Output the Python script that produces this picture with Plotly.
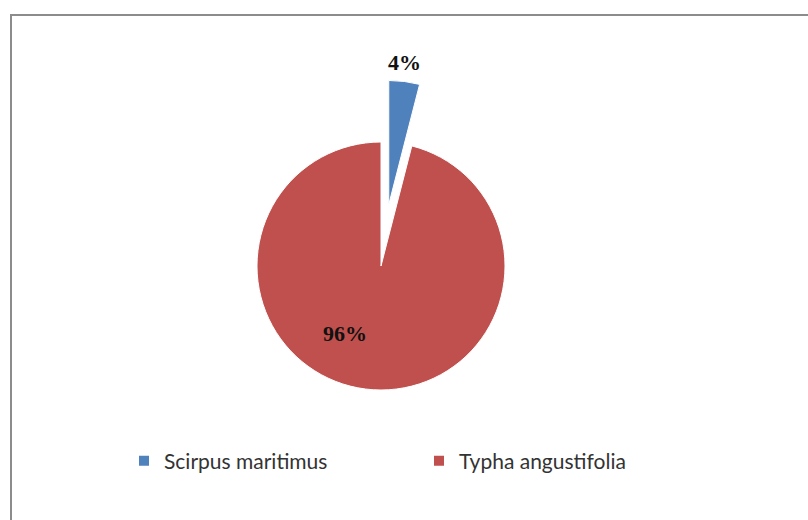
import plotly.graph_objects as go

# Species share of the stand
species = ["Scirpus maritimus", "Typha angustifolia"]
shares = [4, 96]
colors = ["#4F81BD", "#C0504D"]
pulls = [0.5, 0]

W, H = 808, 520
CX, CY = 381, 266          # pie centre (px from top-left)
R = 124                    # pie radius (px)
box = R * 2 * (1 + max(pulls))

fig = go.Figure(
    go.Pie(
        labels=species,
        values=shares,
        sort=False,
        direction="clockwise",
        rotation=0,
        pull=pulls,
        marker=dict(colors=colors, line=dict(color="white", width=1)),
        textinfo="none",
        hoverinfo="label+percent",
        domain=dict(
            x=[(CX - box / 2) / W, (CX + box / 2) / W],
            y=[(H - CY - box / 2) / H, (H - CY + box / 2) / H],
        ),
    )
)

# Percentage labels, computed from the values
total = sum(shares)
pct = [f"{round(v * 100 / total)}%" for v in shares]
label_pos = [(404, 62), (345, 333)]
for txt, (px, py) in zip(pct, label_pos):
    fig.add_annotation(
        x=px / W, y=1 - py / H, xref="paper", yref="paper",
        text=f"<b>{txt}</b>", showarrow=False,
        font=dict(family="Liberation Serif", size=22, color="#111111"),
        xanchor="center", yanchor="middle",
    )

# Chart frame
fig.add_shape(
    type="rect", xref="paper", yref="paper",
    x0=11 / W, x1=1.005, y0=-0.005, y1=1 - 15 / H,
    line=dict(color="#8C8C8C", width=2), layer="below",
)

fig.update_layout(
    width=W, height=H,
    margin=dict(l=0, r=0, t=0, b=0),
    paper_bgcolor="white",
    plot_bgcolor="white",
    showlegend=True,
    legend=dict(
        orientation="h",
        x=124 / W, y=1 - 461 / H,
        xanchor="left", yanchor="middle",
        entrywidth=250,
        itemwidth=30,
        font=dict(family="Lato", size=21, color="#333333"),
        itemsizing="constant",
    ),
)

fig.write_html("out.html")
